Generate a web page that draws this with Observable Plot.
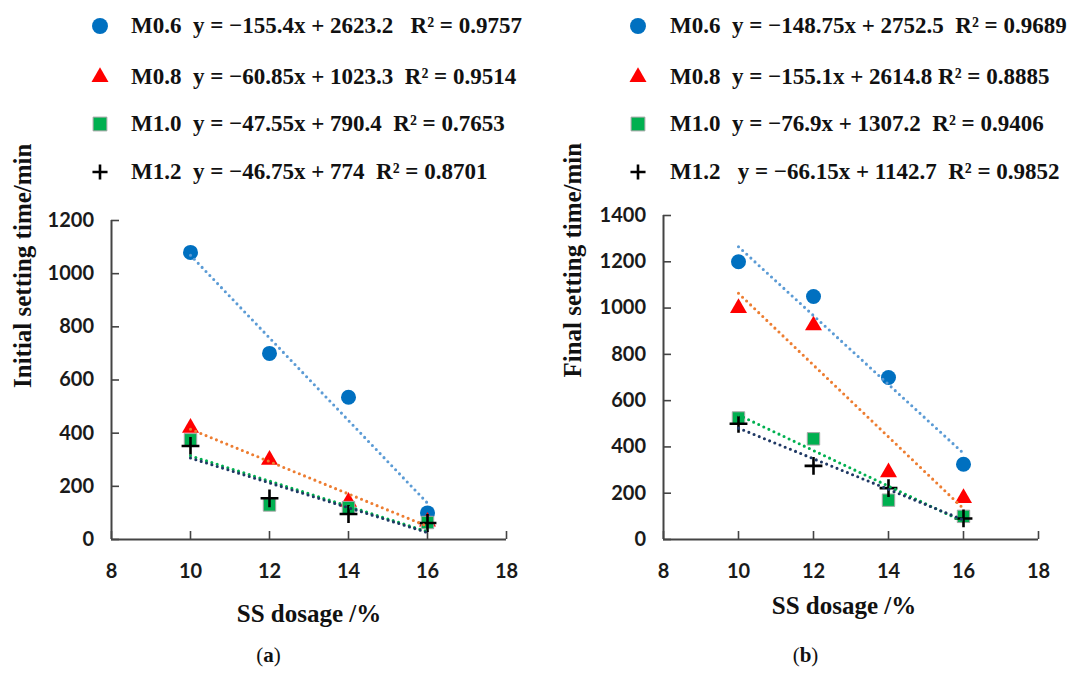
<!DOCTYPE html>
<html>
<head>
<meta charset="utf-8">
<script src="https://cdn.jsdelivr.net/npm/d3@7"></script>
<script src="https://cdn.jsdelivr.net/npm/@observablehq/plot@0.6"></script>
<style>
  body { margin: 0; background: #fff; }
  #fig { position: relative; width: 1074px; height: 673px; overflow: hidden;
         font-family: "Liberation Serif", "Times New Roman", serif; color: #111; }
  .panel { position: absolute; }
  .row { position: absolute; height: 30px; display: flex; align-items: center;
         white-space: pre; font-weight: bold; font-size: 23px; }
  .row svg { flex: none; }
  .caption { position: absolute; top: 643px; width: 537px; text-align: center;
             font-size: 21px; font-family: "Liberation Serif", serif; }
</style>
</head>
<body>
<div id="fig"></div>
<script>
// SS dosage (%) and the four mixes
const dosage = [10, 12, 14, 16];
const mixes = ["M0.6", "M0.8", "M1.0", "M1.2"];

// Initial setting time (min)
const initialM06 = [1080, 700, 535, 100];
const initialM08 = [420, 300, 142, 67];
const initialM10 = [375, 130, 120, 64];
const initialM12 = [352, 155, 96, 62];
const initialSlope = [-155.4, -60.85, -47.55, -46.75];
const initialIntercept = [2623.2, 1023.3, 790.4, 774];
const initialR2 = ["0.9757", "0.9514", "0.7653", "0.8701"];

// Final setting time (min)
const finalM06 = [1200, 1050, 700, 325];
const finalM08 = [1000, 925, 290, 179];
const finalM10 = [525, 435, 170, 100];
const finalM12 = [500, 318, 222, 91];
const finalSlope = [-148.75, -155.1, -76.9, -66.15];
const finalIntercept = [2752.5, 2614.8, 1307.2, 1142.7];
const finalR2 = ["0.9689", "0.8885", "0.9406", "0.9852"];

// Axis ticks
const xTicks = [8, 10, 12, 14, 16, 18];
const initialTicks = [0, 200, 400, 600, 800, 1000, 1200];
const finalTicks = [0, 200, 400, 600, 800, 1000, 1200, 1400];

// Marker and trendline styles, one per mix
const styles = [
  {symbol: "circle",   d3sym: d3.symbolCircle,   fill: "#0070C0", stroke: "none",    sw: 0,   r: 7.5, legendSize: 200, trend: "#5B9BD5"},
  {symbol: "triangle", d3sym: d3.symbolTriangle, fill: "#FF0000", stroke: "none",    sw: 0,   r: 6.3, legendSize: 125, trend: "#ED7D31"},
  {symbol: "square",   d3sym: d3.symbolSquare,   fill: "#00B050", stroke: "#A6A6A6", sw: 1,   r: 7,   legendSize: 190, trend: "#00B050"},
  {symbol: "plus",     d3sym: d3.symbolPlus,     fill: "none",    stroke: "#000",    sw: 2.6, r: 5.8, legendSize: 76,  trend: "#1F3864"}
];

const tickFont = {fontSize: 20, fontWeight: "bold", fontFamily: "Lato, 'Open Sans', sans-serif", fill: "#1a1a1a"};
const titleFont = {fontSize: 25, fontWeight: "bold", fontFamily: "'Liberation Serif', 'Times New Roman', serif", fill: "#111"};

function panel({series, slope, intercept, yTicks, yTitle, layout}) {
  const yMax = yTicks[yTicks.length - 1];
  const marks = [
    Plot.ruleY([0], {x1: xTicks[0], x2: xTicks[xTicks.length - 1], stroke: "#444", strokeWidth: 2}),
    Plot.ruleX([xTicks[0]], {y1: 0, y2: yMax, stroke: "#444", strokeWidth: 2}),
    Plot.axisX({ticks: xTicks, tickFormat: d => String(d), tickSize: -8, tickPadding: 32, stroke: "#444", strokeWidth: 1.6, label: null, ...tickFont}),
    Plot.axisY({ticks: yTicks, tickFormat: d => String(d), tickSize: -8, tickPadding: 25.5, stroke: "#444", strokeWidth: 1.6, label: null, ...tickFont})
  ];
  // markers
  series.forEach((vals, i) => {
    const s = styles[i];
    marks.push(Plot.dot(dosage.map((x, j) => ({x, y: vals[j]})), {
      x: "x", y: "y", symbol: s.symbol, r: s.r, fill: s.fill, stroke: s.stroke, strokeWidth: s.sw
    }));
  });
  // linear trendlines from the fitted equations
  const span = d3.extent(dosage);
  series.forEach((vals, i) => {
    marks.push(Plot.line(span.map(x => ({x, y: slope[i] * x + intercept[i]})), {
      x: "x", y: "y", stroke: styles[i].trend, strokeWidth: 3.1,
      strokeDasharray: "0 5.6", strokeLinecap: "round"
    }));
  });
  // axis titles
  marks.push(Plot.text(["SS dosage /%"], {text: d => d, frameAnchor: "bottom", dy: layout.xTitleDy, dx: layout.xTitleDx, lineAnchor: "middle", ...titleFont}));
  marks.push(Plot.text([yTitle], {text: d => d, frameAnchor: "left", rotate: -90, dx: layout.yTitleDx, dy: layout.yTitleDy, lineAnchor: "middle", ...titleFont}));

  return Plot.plot({
    width: layout.width, height: layout.height,
    marginLeft: layout.ml, marginRight: layout.mr, marginTop: layout.mt, marginBottom: layout.mb,
    x: {domain: [xTicks[0], xTicks[xTicks.length - 1]]},
    y: {domain: [0, yMax]},
    style: {background: "transparent", overflow: "visible"},
    marks
  });
}

function legend(container, left, top, rowGap, slope, intercept, r2, textGap, gaps) {
  mixes.forEach((name, i) => {
    const s = styles[i];
    const row = document.createElement("div");
    row.className = "row";
    row.style.left = left + "px";
    row.style.top = (top + rowGap[i]) + "px";
    const svg = d3.create("svg").attr("width", 20).attr("height", 20);
    svg.append("path")
      .attr("transform", "translate(10,10)")
      .attr("d", d3.symbol(s.d3sym, s.legendSize)())
      .attr("fill", s.fill)
      .attr("stroke", s.stroke === "none" ? null : s.stroke)
      .attr("stroke-width", s.sw || null);
    row.appendChild(svg.node());
    const text = document.createElement("span");
    text.style.marginLeft = textGap + "px";
    const eq = `y = \u2212${Math.abs(slope[i])}x + ${intercept[i]}`;
    text.textContent = `${name}${gaps[i][0]}${eq}${gaps[i][1]}R\u00B2 = ${r2[i]}`;
    row.appendChild(text);
    container.appendChild(row);
  });
}

const fig = document.getElementById("fig");

const left = document.createElement("div");
left.className = "panel";
left.style.left = "0px"; left.style.top = "190px";
left.appendChild(panel({
  series: [initialM06, initialM08, initialM10, initialM12],
  slope: initialSlope, intercept: initialIntercept,
  yTicks: initialTicks, yTitle: "Initial setting time/min",
  layout: {width: 537, height: 440, ml: 111, mr: 31, mt: 30, mb: 91,
           xTitleDy: 74, xTitleDx: 0, yTitleDx: -89, yTitleDy: 8}
}));
fig.appendChild(left);

const right = document.createElement("div");
right.className = "panel";
right.style.left = "537px"; right.style.top = "185px";
right.appendChild(panel({
  series: [finalM06, finalM08, finalM10, finalM12],
  slope: finalSlope, intercept: finalIntercept,
  yTicks: finalTicks, yTitle: "Final setting time/min",
  layout: {width: 537, height: 445, ml: 126, mr: 36, mt: 30, mb: 91,
           xTitleDy: 66, xTitleDx: -7, yTitleDx: -91, yTitleDy: 0}
}));
fig.appendChild(right);

legend(fig, 90, 11, [0, 51, 98, 146], initialSlope, initialIntercept, initialR2, 21,
       [["  ", "   "], ["  ", "  "], ["  ", "  "], ["  ", "  "]]);
legend(fig, 628, 11, [0, 51, 98, 146], finalSlope, finalIntercept, finalR2, 22,
       [["  ", "  "], ["  ", " "], ["  ", "  "], ["   ", "  "]]);

const capA = document.createElement("div");
capA.className = "caption"; capA.style.left = "0px";
capA.innerHTML = "(<b>a</b>)";
fig.appendChild(capA);
const capB = document.createElement("div");
capB.className = "caption"; capB.style.left = "537px";
capB.innerHTML = "(<b>b</b>)";
fig.appendChild(capB);
</script>
</body>
</html>
